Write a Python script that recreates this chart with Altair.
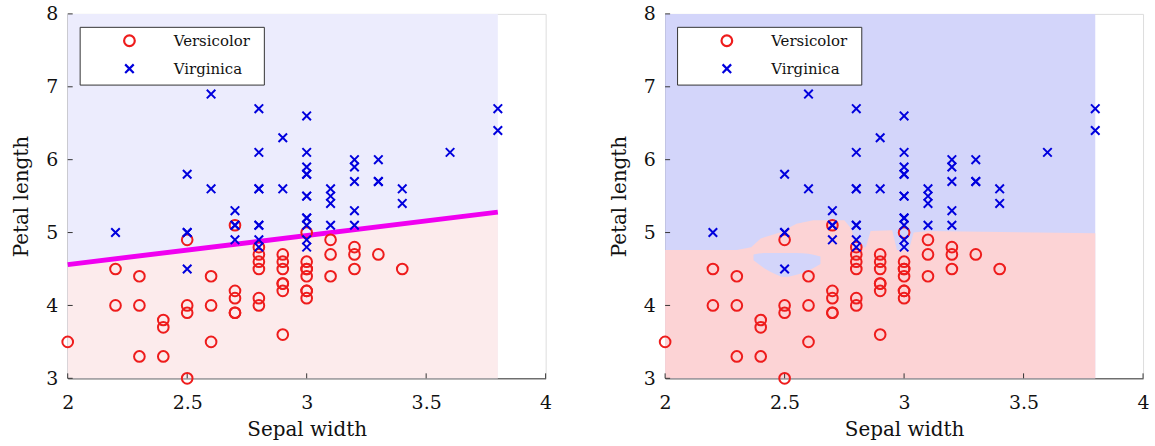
import altair as alt
import pandas as pd

# ---- data (iris: Versicolor / Virginica, sepal width vs petal length) ----
vers_sw = [3.2, 3.2, 3.1, 2.3, 2.8, 2.8, 3.3, 2.4, 2.9, 2.7, 2.0, 3.0, 2.2, 2.9, 2.9, 3.1, 3.0, 2.7, 2.2, 2.5,
           3.2, 2.8, 2.5, 2.8, 2.9, 3.0, 2.8, 3.0, 2.9, 2.6, 2.4, 2.4, 2.7, 2.7, 3.0, 3.4, 3.1, 2.3, 3.0, 2.5,
           2.6, 3.0, 2.6, 2.3, 2.7, 3.0, 2.9, 2.9, 2.5, 2.8]
vers_pl = [4.7, 4.5, 4.9, 4.0, 4.6, 4.5, 4.7, 3.3, 4.6, 3.9, 3.5, 4.2, 4.0, 4.7, 3.6, 4.4, 4.5, 4.1, 4.5, 3.9,
           4.8, 4.0, 4.9, 4.7, 4.3, 4.4, 4.8, 5.0, 4.5, 3.5, 3.8, 3.7, 3.9, 5.1, 4.5, 4.5, 4.7, 4.4, 4.1, 4.0,
           4.4, 4.6, 4.0, 3.3, 4.2, 4.2, 4.2, 4.3, 3.0, 4.1]
virg_sw = [3.3, 2.7, 3.0, 2.9, 3.0, 3.0, 2.5, 2.9, 2.5, 3.6, 3.2, 2.7, 3.0, 2.5, 2.8, 3.2, 3.0, 3.8, 2.6, 2.2,
           3.2, 2.8, 2.8, 2.7, 3.3, 3.2, 2.8, 3.0, 2.8, 3.0, 2.8, 3.8, 2.8, 2.8, 2.6, 3.0, 3.4, 3.1, 3.0, 3.1,
           3.1, 3.1, 2.7, 3.2, 3.3, 3.0, 2.5, 3.0, 3.4, 3.0]
virg_pl = [6.0, 5.1, 5.9, 5.6, 5.8, 6.6, 4.5, 6.3, 5.8, 6.1, 5.1, 5.3, 5.5, 5.0, 5.1, 5.3, 5.5, 6.7, 6.9, 5.0,
           5.7, 4.9, 6.7, 4.9, 5.7, 6.0, 4.8, 4.9, 5.6, 5.8, 6.1, 6.4, 5.6, 5.1, 5.6, 6.1, 5.6, 5.5, 4.8, 5.4,
           5.6, 5.1, 5.1, 5.9, 5.7, 5.2, 5.0, 5.2, 5.4, 5.1]

x_ticks = [2, 2.5, 3, 3.5, 4]
y_ticks = [3, 4, 5, 6, 7, 8]

# decision region extents
region_x = [2.0, 3.8]
region_y = [3.0, 8.0]

# left panel: linear boundary
line_x = [2.0, 3.8]
line_y = [4.56, 5.28]

# right panel: nonlinear boundary (top edge of Versicolor region)
knn_x = [2.00, 2.30, 2.36, 2.40, 2.48, 2.55, 2.62, 2.75, 2.78, 2.80, 2.84, 2.86, 2.95, 2.97, 3.02, 3.04, 3.10, 3.80]
knn_top = [4.76, 4.76, 4.80, 4.92, 5.00, 5.12, 5.17, 5.17, 5.05, 4.80, 4.80, 5.02, 5.03, 4.76, 4.76, 5.00, 5.02, 4.99]
# blue island inside the Versicolor region
island_x = [2.37, 2.42, 2.46, 2.50, 2.55, 2.60, 2.65]
island_top = [4.70, 4.72, 4.72, 4.72, 4.72, 4.71, 4.67]
island_bot = [4.62, 4.50, 4.43, 4.39, 4.42, 4.48, 4.57]

labels = ["Versicolor", "Virginica"]

pts = pd.DataFrame({
    "sw": vers_sw + virg_sw,
    "pl": vers_pl + virg_pl,
    "cls": [labels[0]] * len(vers_sw) + [labels[1]] * len(virg_sw),
    "ord": list(range(len(vers_sw) + len(virg_sw))),
})
rect_df = pd.DataFrame({"x": [region_x[0]], "x2": [region_x[1]], "y": [region_y[0]], "y2": [region_y[1]]})
line_df = pd.DataFrame({"x": line_x, "y": line_y, "y0": [region_y[0]] * len(line_x)})
knn_df = pd.DataFrame({"x": knn_x, "y": knn_top, "y0": [region_y[0]] * len(knn_x)})
isl_df = pd.DataFrame({"x": island_x, "y": island_top, "y2": island_bot})
xt_df = pd.DataFrame({"t": x_ticks})
yt_df = pd.DataFrame({"t": y_ticks})

FONT = "DejaVu Serif"
W, H = 480, 366
xs = alt.Scale(domain=[2, 4], nice=False, zero=False)
ys = alt.Scale(domain=[3, 8], nice=False, zero=False)
xax = alt.Axis(title="Sepal width", values=x_ticks, format="~g", grid=False, ticks=False,
               labelPadding=15, titlePadding=7, labelFontSize=19, titleFontSize=20, labelFont=FONT,
               titleFont=FONT, titleFontWeight="normal", domainColor="#333333", labelColor="#111111",
               titleColor="#111111", labelFlush=False)
yax = alt.Axis(title="Petal length", values=y_ticks, format="~g", grid=False, ticks=False,
               labelPadding=10, titlePadding=14, labelFontSize=19, titleFontSize=20, labelFont=FONT,
               titleFont=FONT, titleFontWeight="normal", domainColor="#333333", labelColor="#111111",
               titleColor="#111111", labelFlush=False)

legend_opts = dict(title=".", titleOrient="right", titleOpacity=0, titleFontSize=5, titlePadding=6,
                   orient="none", legendX=12, legendY=13,
                   fillColor="white", strokeColor="#333333", padding=6.5,
                   symbolOffset=36, labelOffset=37, rowPadding=8,
                   labelFont=FONT, labelFontSize=15, labelColor="#111111",
                   symbolSize=115, symbolStrokeWidth=2.2)

def points_layer():
    return alt.Chart(pts).mark_point(filled=False, strokeWidth=2, size=115, opacity=1).encode(
        x=alt.X("sw:Q", scale=xs, axis=xax),
        y=alt.Y("pl:Q", scale=ys, axis=yax),
        order=alt.Order("ord:Q"),
        color=alt.Color("cls:N", scale=alt.Scale(domain=labels, range=["#ee1c1c", "#0000dd"]),
                        legend=alt.Legend(**legend_opts)),
        shape=alt.Shape("cls:N", scale=alt.Scale(domain=labels,
                                                 range=["circle", "M-0.8,-0.8L0.8,0.8M-0.8,0.8L0.8,-0.8"]),
                        legend=alt.Legend(**legend_opts)),
    )

def tick_layers():
    xt = alt.Chart(xt_df).mark_rule(color="#333333", strokeWidth=1).encode(
        x=alt.X("t:Q", scale=xs, axis=xax), y=alt.value(H), y2=alt.value(H - 5))
    yt = alt.Chart(yt_df).mark_rule(color="#333333", strokeWidth=1).encode(
        y=alt.Y("t:Q", scale=ys, axis=yax), x=alt.value(0), x2=alt.value(5))
    return [xt, yt]

def panel(bg_blue, bg_red, red_df, extra=None):
    blue = alt.Chart(rect_df).mark_rect(color=bg_blue).encode(
        x=alt.X("x:Q", scale=xs, axis=xax), x2="x2:Q",
        y=alt.Y("y:Q", scale=ys, axis=yax), y2="y2:Q")
    red = alt.Chart(red_df).mark_area(color=bg_red, opacity=1, interpolate="linear").encode(
        x=alt.X("x:Q", scale=xs, axis=xax),
        y=alt.Y("y:Q", scale=ys, axis=yax), y2="y0:Q")
    layers = [blue, red]
    if extra is not None:
        layers += extra
    layers += tick_layers()
    layers.append(points_layer())
    return alt.layer(*layers).properties(width=W, height=H).resolve_scale(
        color="independent", shape="independent")

magenta = alt.Chart(line_df).mark_line(color="#f000f0", strokeWidth=5).encode(
    x=alt.X("x:Q", scale=xs, axis=xax), y=alt.Y("y:Q", scale=ys, axis=yax))

island = alt.Chart(isl_df).mark_area(color="#d3d5fa", opacity=1, interpolate="monotone").encode(
    x=alt.X("x:Q", scale=xs, axis=xax), y=alt.Y("y:Q", scale=ys, axis=yax), y2="y2:Q")

left = panel("#ececfd", "#fcebec", line_df, [magenta])
right = panel("#d3d5fa", "#fcd3d5", knn_df, [island])

chart = alt.hconcat(left, right, spacing=56).resolve_legend(
    color="independent", shape="independent").resolve_scale(
    color="independent", shape="independent").configure_view(stroke=None).configure(
    font=FONT).properties(
    padding={"left": 11, "top": 3, "right": 5, "bottom": 3}, background="white")

chart.save("out.html", embed_options={"renderer": "svg", "actions": False})
